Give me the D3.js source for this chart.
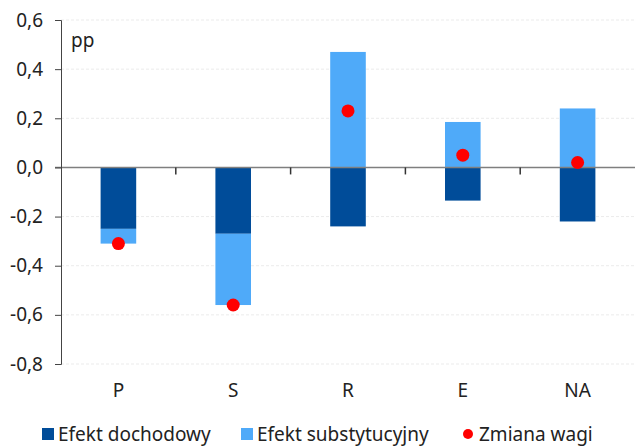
<!DOCTYPE html>
<html>
<head>
<meta charset="utf-8">
<script src="https://cdn.jsdelivr.net/npm/d3@7"></script>
<style>
  body { margin: 0; background: #fff; }
  text { font-family: "Noto Sans", "DejaVu Sans", sans-serif; fill: #222; }
</style>
</head>
<body>
<div id="chart"></div>
<script>
const categories = ["P", "S", "R", "E", "NA"];
const incomeEffect = [-0.25, -0.27, -0.24, -0.135, -0.22];
const substitutionEffect = [-0.06, -0.29, 0.47, 0.185, 0.24];
const weightChange = [-0.31, -0.56, 0.23, 0.05, 0.02];
const yTicks = [0.6, 0.4, 0.2, 0.0, -0.2, -0.4, -0.6, -0.8];

const W = 635, H = 448;
const margin = { top: 20, right: 0, bottom: 84, left: 61 };
const width = W - margin.left - margin.right;
const height = H - margin.top - margin.bottom;

const svg = d3.select("#chart").append("svg")
  .attr("width", W).attr("height", H);
const g = svg.append("g")
  .attr("transform", `translate(${margin.left},${margin.top})`);

const x = d3.scaleBand().domain(categories).range([0, width]).paddingInner(0.69).paddingOuter(0.345);
const y = d3.scaleLinear().domain([-0.8, 0.6]).range([height, 0]);
const fmt = d => d3.format(".1f")(d).replace(".", ",").replace("−", "-");

// faint gridlines
g.selectAll(".grid").data(yTicks.filter(d => d !== 0)).enter()
  .append("line")
  .attr("x1", 0).attr("x2", width)
  .attr("y1", d => y(d)).attr("y2", d => y(d))
  .attr("stroke", "#ebebeb").attr("stroke-dasharray", "3,2");

// stacked bars: negatives and positives stack separately
categories.forEach((c, i) => {
  let pos = 0, neg = 0;
  [[incomeEffect[i], "#004C99"], [substitutionEffect[i], "#4FAAF9"]].forEach(([v, col]) => {
    let y0, y1;
    if (v >= 0) { y0 = pos; y1 = pos + v; pos = y1; }
    else { y0 = neg; y1 = neg + v; neg = y1; }
    g.append("rect")
      .attr("x", x(c))
      .attr("width", x.bandwidth())
      .attr("y", y(Math.max(y0, y1)))
      .attr("height", Math.abs(y(y0) - y(y1)))
      .attr("fill", col);
  });
});

// zero line
g.append("line")
  .attr("x1", -6).attr("x2", width)
  .attr("y1", y(0)).attr("y2", y(0))
  .attr("stroke", "#7f7f7f").attr("stroke-width", 1.5);

// category separators ticks
const step = x.step();
d3.range(1, categories.length).forEach(k => {
  g.append("line")
    .attr("x1", k * step).attr("x2", k * step)
    .attr("y1", y(0)).attr("y2", y(0) + 7)
    .attr("stroke", "#333").attr("stroke-width", 1.5);
});

// y axis
const yAxis = g.append("g")
  .call(d3.axisLeft(y).tickValues(yTicks).tickFormat(fmt).tickSize(6).tickPadding(12));
yAxis.select(".domain").attr("stroke", "#444");
yAxis.selectAll(".tick line").attr("stroke", "#444");
yAxis.selectAll("text").style("font-size", "19px").attr("fill", "#222");

// dots
g.selectAll(".dot").data(weightChange).enter()
  .append("circle")
  .attr("cx", (d, i) => x(categories[i]) + x.bandwidth() / 2)
  .attr("cy", d => y(d))
  .attr("r", 6.5)
  .attr("fill", "#FF0000");

// category labels
g.selectAll(".cat").data(categories).enter()
  .append("text")
  .attr("x", d => x(d) + x.bandwidth() / 2)
  .attr("y", height + 33)
  .attr("text-anchor", "middle")
  .style("font-size", "19px")
  .text(d => d);

// unit label
g.append("text")
  .attr("x", 10).attr("y", 27)
  .style("font-size", "19px")
  .text("pp");

// legend
const legend = svg.append("g").attr("transform", `translate(0,434)`);
const items = [
  { label: "Efekt dochodowy", color: "#004C99", type: "rect", x: 42 },
  { label: "Efekt substytucyjny", color: "#4FAAF9", type: "rect", x: 241 },
  { label: "Zmiana wagi", color: "#FF0000", type: "dot", x: 463 }
];
items.forEach(it => {
  if (it.type === "rect") {
    legend.append("rect").attr("x", it.x).attr("y", -6).attr("width", 12).attr("height", 12).attr("fill", it.color);
  } else {
    legend.append("circle").attr("cx", it.x + 5).attr("cy", 0).attr("r", 5).attr("fill", it.color);
  }
  legend.append("text")
    .attr("x", it.x + 16).attr("y", 7)
    .style("font-size", "19px")
    .text(it.label);
});
</script>
</body>
</html>
